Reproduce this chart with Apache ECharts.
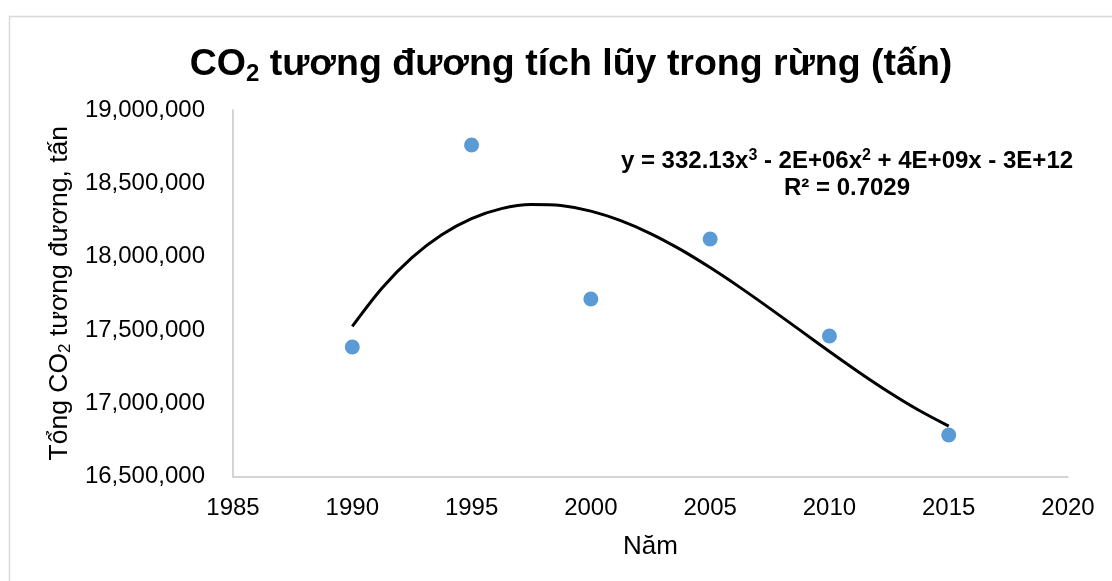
<!DOCTYPE html>
<html>
<head>
<meta charset="utf-8">
<script src="https://cdn.jsdelivr.net/npm/echarts@6/dist/echarts.min.js"></script>
<style>
html,body{margin:0;padding:0;background:#fff;}
#chart{width:1112px;height:581px;}
</style>
</head>
<body>
<div id="chart"></div>
<script>
// Observed data (year, tonnes CO2-eq)
const years = [1990, 1995, 2000, 2005, 2010, 2015];
const co2Values = [17383000, 18761000, 17711000, 18120000, 17458000, 16783000];

const trendYears = [1990, 1991.25, 1992.5, 1993.75, 1995, 1996.25, 1997.5, 1998.75, 2000, 2001.25, 2002.5,
                    2003.75, 2005, 2006.25, 2007.5, 2008.75, 2010, 2011.25, 2012.5, 2013.75, 2015];
const trendValues = [17524000, 17786000, 17993000, 18149000, 18259000, 18327000, 18355000, 18348000, 18310000, 18245000, 18157000,
                     18049000, 17925000, 17790000, 17647000, 17500000, 17353000, 17210000, 17075000, 16952000, 16844000];

const xTicks = {min: 1985, max: 2020, interval: 5};
const yTicks = {min: 16500000, max: 19000000, interval: 500000};

const equationLine1 = '{b|y = 332.13x}{p|3}{b| - 2E+06x}{p|2}{b| + 4E+09x - 3E+12}';
const equationLine2 = '{b|R² = 0.7029}';

const FONT = '"Liberation Sans", Arial, sans-serif';

const eqRich = {
  b: {fontSize: 24, fontWeight: 'bold', color: '#000', fontFamily: FONT, lineHeight: 28},
  p: {fontSize: 16, fontWeight: 'bold', color: '#000', fontFamily: FONT, lineHeight: 28, padding: [0, 0, 10, 0]}
};

const chart = echarts.init(document.getElementById('chart'), null, {renderer: 'canvas'});
const option = {
  backgroundColor: '#ffffff',
  animation: false,
  textStyle: {fontFamily: FONT},
  title: {
    text: '{a|CO}{s|2}{a| tương đương tích lũy trong rừng (tấn)}',
    left: 566,
    top: 38,
    textAlign: 'center',
    textStyle: {
      rich: {
        a: {fontSize: 37.5, fontWeight: 'bold', color: '#000', fontFamily: FONT, lineHeight: 44},
        s: {fontSize: 24, fontWeight: 'bold', color: '#000', fontFamily: FONT, padding: [18, 0, 0, 0], lineHeight: 44}
      }
    }
  },
  grid: {left: 233, right: 44, top: 110, bottom: 104.5, containLabel: false},
  xAxis: {
    type: 'value',
    min: xTicks.min, max: xTicks.max, interval: xTicks.interval,
    name: 'Năm',
    nameLocation: 'middle',
    nameGap: 57,
    nameTextStyle: {fontSize: 26, color: '#000', fontFamily: FONT},
    axisLine: {show: true, lineStyle: {color: '#c6c6c6', width: 1.5}},
    axisTick: {show: false},
    splitLine: {show: false},
    axisLabel: {fontSize: 24, color: '#000', margin: 20, fontFamily: FONT, formatter: v => String(v)}
  },
  yAxis: {
    type: 'value',
    min: yTicks.min, max: yTicks.max, interval: yTicks.interval,
    name: '{a|Tổng CO}{s|2}{a| tương đương, tấn}',
    nameLocation: 'middle',
    nameGap: 154,
    nameTextStyle: {
      rich: {
        a: {fontSize: 26.5, color: '#000', fontFamily: FONT, lineHeight: 32},
        s: {fontSize: 17, color: '#000', fontFamily: FONT, padding: [12, 0, 0, 0], lineHeight: 32}
      }
    },
    axisLine: {show: true, lineStyle: {color: '#c6c6c6', width: 1.5}},
    axisTick: {show: false},
    splitLine: {show: false},
    axisLabel: {
      fontSize: 24, color: '#000', margin: 28, fontFamily: FONT,
      formatter: v => v.toLocaleString('en-US')
    }
  },
  graphic: [
    {type: 'rect', left: 7, top: 14, silent: true, z: -10,
     shape: {width: 1200, height: 700}, style: {fill: 'none', stroke: '#d9d9d9', lineWidth: 1.5}},
    {type: 'text', x: 847, y: 161, silent: true,
     style: {text: equationLine1, align: 'center', verticalAlign: 'middle', rich: eqRich}},
    {type: 'text', x: 847, y: 188, silent: true,
     style: {text: equationLine2, align: 'center', verticalAlign: 'middle', rich: eqRich}}
  ],
  series: [
    {
      type: 'line',
      data: trendYears.map((x, i) => [x, trendValues[i]]),
      smooth: 0.3,
      showSymbol: false,
      lineStyle: {color: '#000', width: 3},
      z: 2
    },
    {
      type: 'scatter',
      data: years.map((x, i) => [x, co2Values[i]]),
      symbolSize: 15,
      itemStyle: {color: '#5b9bd5', opacity: 1},
      z: 3
    }
  ]
};
chart.setOption(option);
</script>
</body>
</html>
